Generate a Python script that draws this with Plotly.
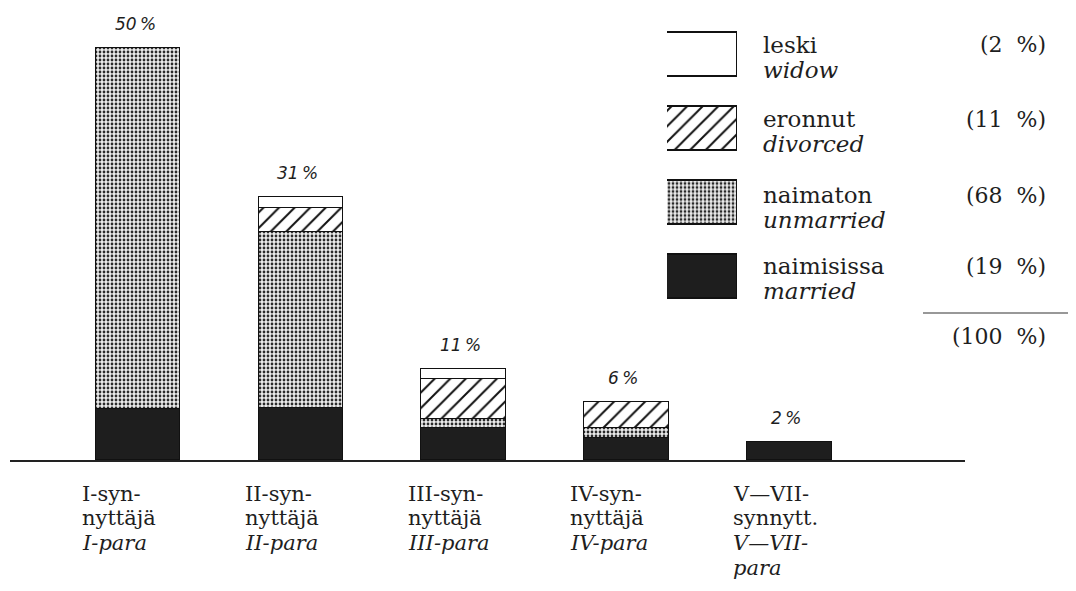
import plotly.graph_objects as go

# ---------------- data ----------------
categories = ["I-synnyttäjä", "II-synnyttäjä", "III-synnyttäjä", "IV-synnyttäjä", "V—VII-synnytt."]
married = [6.2, 6.3, 3.9, 2.7, 2.2]
unmarried = [43.4, 21.2, 1.0, 1.2, None]
divorced = [None, 2.9, 4.9, 3.1, None]
widow = [None, 1.3, 1.2, None, None]
total_labels = ["50\u2009%", "31\u2009%", "11\u2009%", "6\u2009%", "2\u2009%"]
tick_labels = [
    ["I-syn-", "nyttäjä", "<i>I-para</i>"],
    ["II-syn-", "nyttäjä", "<i>II-para</i>"],
    ["III-syn-", "nyttäjä", "<i>III-para</i>"],
    ["IV-syn-", "nyttäjä", "<i>IV-para</i>"],
    ["V—VII-", "synnytt.", "<i>V—VII-</i>", "<i>para</i>"],
]
legend_fi = ["leski", "eronnut", "naimaton", "naimisissa"]
legend_en = ["widow", "divorced", "unmarried", "married"]
legend_pct = ["2", "11", "68", "19"]
total_pct = "100"

# ---------------- styling ----------------
INK = "#1e1e1e"
SERIF = "DejaVu Serif, serif"
OFF = 8  # page body margin
W, H = 1076 - OFF, 591 - OFF
ML, MR, MT, MB = 10 - OFF, W - (965 - OFF), 10 - OFF, H - (460 - OFF)
PW, PH = W - ML - MR, H - MT - MB


def px(x):  # page pixel -> paper x
    return (x - OFF - ML) / PW


def py(y):  # page pixel -> paper y
    return (H - MB - (y - OFF)) / PH


styles = {
    "married": dict(color=INK),
    "unmarried": dict(color="#d9d9d9", pattern=dict(shape=".", size=4, solidity=0.38,
                                                     fgcolor="#2a2a2a", bgcolor="#ececec", fillmode="replace")),
    "divorced": dict(color="white", pattern=dict(shape="/", size=11, solidity=0.18,
                                                  fgcolor="#111", bgcolor="white", fillmode="replace")),
    "widow": dict(color="white"),
}

fig = go.Figure()
series = [("married", married), ("unmarried", unmarried), ("divorced", divorced), ("widow", widow)]
for name, vals in series:
    st = styles[name]
    marker = dict(color=st["color"], line=dict(color="#111", width=1.5))
    if "pattern" in st:
        marker["pattern"] = st["pattern"]
    fig.add_trace(go.Bar(x=categories, y=vals, name=name, marker=marker,
                         width=0.52, showlegend=False))

# legend swatches drawn as bars on a second pair of axes
sw_order = ["widow", "divorced", "unmarried", "married"]
for i, name in enumerate(sw_order):
    st = styles[name]
    marker = dict(color=st["color"], line=dict(color="#111", width=1.5))
    if "pattern" in st:
        marker["pattern"] = st["pattern"]
    fig.add_trace(go.Bar(x=[1], y=[3 - i], orientation="h", marker=marker, width=0.59,
                         xaxis="x2", yaxis="y2", showlegend=False))

fig.update_layout(
    barmode="stack",
    bargap=0,
    width=W, height=H,
    margin=dict(l=ML, r=MR, t=MT, b=MB, pad=0),
    paper_bgcolor="white", plot_bgcolor="white",
    xaxis=dict(range=[-0.787, 5.08], showline=True, linecolor="#222", linewidth=1.5,
               showticklabels=False, ticks="", showgrid=False, zeroline=False),
    yaxis=dict(range=[0, PH / 8.3], showticklabels=False, showgrid=False, zeroline=False,
               showline=False),
    xaxis2=dict(domain=[px(667), px(737)], range=[0, 1], anchor="y2", visible=False),
    yaxis2=dict(domain=[py(313.5), py(17.5)], range=[-0.5, 3.5], anchor="x2", visible=False),
    showlegend=False,
)

# total labels above bars
tot = [sum(v for v in vals if v is not None) for vals in zip(married, unmarried, divorced, widow)]
for c, t, lab in zip(categories, tot, total_labels):
    fig.add_annotation(x=c, y=t, text=lab, showarrow=False, yanchor="bottom", yshift=12, xshift=-3,
                       font=dict(family="DejaVu Sans", size=17, color=INK, style="italic"))

# category labels under axis (one annotation per line)
LINE0, LSTEP = 494, 24.5
for c, lines in zip(categories, tick_labels):
    for k, ln in enumerate(lines):
        fig.add_annotation(x=c, y=py(LINE0 + k * LSTEP), yref="paper", text=ln, showarrow=False,
                           xanchor="left", yanchor="middle", xshift=-58,
                           font=dict(family=SERIF, size=21, color=INK))

# legend texts
box_tops = [33, 107, 183, 254]
LFS = 23
for top, fi, en, pct in zip(box_tops, legend_fi, legend_en, legend_pct):
    fig.add_annotation(x=px(761), y=py(top + 12), xref="paper", yref="paper",
                       text=fi, showarrow=False, xanchor="left", yanchor="middle",
                       font=dict(family=SERIF, size=LFS, color=INK))
    fig.add_annotation(x=px(761), y=py(top + 37), xref="paper", yref="paper",
                       text=f"<i>{en}</i>", showarrow=False, xanchor="left", yanchor="middle",
                       font=dict(family=SERIF, size=LFS, color=INK))
    fig.add_annotation(x=px(1048), y=py(top + 12), xref="paper", yref="paper",
                       text=f"({pct}\u00a0\u00a0%)", showarrow=False, xanchor="right",
                       yanchor="middle", font=dict(family=SERIF, size=LFS - 1, color=INK))

fig.add_shape(type="line", xref="paper", yref="paper", x0=px(923), x1=px(1080),
              y0=py(313), y1=py(313), line=dict(color="#333", width=1.2))
fig.add_annotation(x=px(1048), y=py(336), xref="paper", yref="paper",
                   text=f"({total_pct}\u00a0\u00a0%)", showarrow=False, xanchor="right",
                   yanchor="middle", font=dict(family=SERIF, size=LFS - 1, color=INK))

fig.write_html("out.html")
